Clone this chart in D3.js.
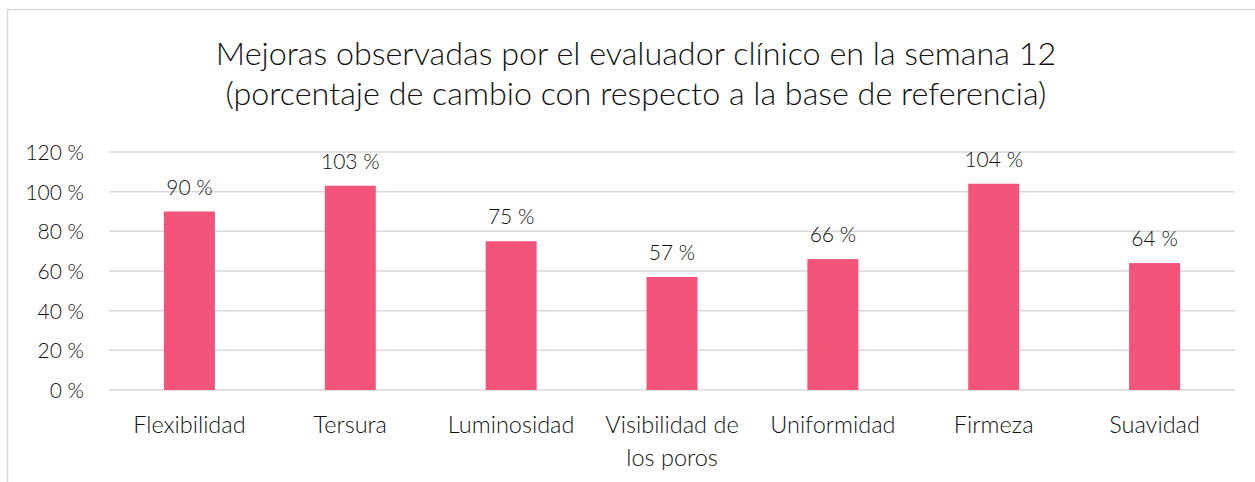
<!DOCTYPE html>
<html>
    <head>
        <script src="https://d3js.org/d3.v7.min.js"></script>
        <style>
            body, html {
                margin: 0;
                padding: 0;
                background: #ffffff;
            }
            svg text {
                font-family: Lato, "Open Sans", sans-serif;
                font-weight: 300;
            }
            .tick text {
                font-size: 21px;
                fill: #111111;
            }
            .grid line {
                stroke: #d9d9d9;
                stroke-width: 1.5;
            }
        </style>
    </head>
    <body>
        <div id="chart"></div>
        <script>
            // data
            const categories = ["Flexibilidad", "Tersura", "Luminosidad", "Visibilidad de los poros", "Uniformidad", "Firmeza", "Suavidad"];
            const values = [90, 103, 75, 57, 66, 104, 64];
            const yTicks = [0, 20, 40, 60, 80, 100, 120];
            const titleLines = ["Mejoras observadas por el evaluador clínico en la semana 12",
                                "(porcentaje de cambio con respecto a la base de referencia)"];

            const width = 1255;
            const height = 482;
            const margin = {top: 152, left: 109, right: 20, bottom: 92};

            const svg = d3.select("#chart")
                .append("svg")
                .attr("width", width)
                .attr("height", height);

            // outer frame (cropped at right and bottom)
            svg.append("path")
                .attr("d", `M7.5,${height} L7.5,9.5 L${width},9.5`)
                .attr("fill", "none")
                .attr("stroke", "#d9d9d9")
                .attr("stroke-width", 1.5);

            const xScale = d3.scaleBand()
                .domain(categories)
                .range([margin.left, width - margin.right])
                .paddingInner(0.683)
                .paddingOuter(0.3415);

            const yScale = d3.scaleLinear()
                .domain([0, 120])
                .range([390, margin.top]);

            // gridlines
            svg.append("g")
                .attr("class", "grid")
                .selectAll("line")
                .data(yTicks)
                .enter()
                .append("line")
                    .attr("x1", margin.left)
                    .attr("x2", width - margin.right)
                    .attr("y1", d => yScale(d))
                    .attr("y2", d => yScale(d));

            // y axis labels
            const yAxis = svg.append("g")
                .attr("transform", `translate(${margin.left - 25},0)`)
                .call(d3.axisLeft(yScale).tickValues(yTicks).tickSize(0).tickPadding(0)
                    .tickFormat(d => d + " %"));
            yAxis.attr("font-family", null).attr("font-size", null);
            yAxis.select(".domain").remove();
            yAxis.selectAll("text").attr("dy", "0.35em");

            // bars
            svg.append("g")
                .selectAll("rect")
                .data(values)
                .enter()
                .append("rect")
                    .attr("x", (d, i) => xScale(categories[i]))
                    .attr("y", d => yScale(d))
                    .attr("width", xScale.bandwidth())
                    .attr("height", d => yScale(0) - yScale(d))
                    .attr("fill", "#f5547a");

            // value labels
            svg.append("g")
                .selectAll("text")
                .data(values)
                .enter()
                .append("text")
                    .attr("x", (d, i) => xScale(categories[i]) + xScale.bandwidth() / 2)
                    .attr("y", d => yScale(d) - 17)
                    .attr("text-anchor", "middle")
                    .attr("font-size", 21)
                    .attr("fill", "#111111")
                    .text(d => d + " %");

            // category labels (wrapped)
            const catLines = {"Visibilidad de los poros": ["Visibilidad de", "los poros"]};
            const catG = svg.append("g");
            categories.forEach(c => {
                const lines = catLines[c] || [c];
                const t = catG.append("text")
                    .attr("x", xScale(c) + xScale.bandwidth() / 2)
                    .attr("y", 433)
                    .attr("text-anchor", "middle")
                    .attr("font-size", 23.5)
                    .attr("fill", "#111111");
                lines.forEach((l, i) => {
                    t.append("tspan")
                        .attr("x", xScale(c) + xScale.bandwidth() / 2)
                        .attr("dy", i === 0 ? 0 : 33)
                        .text(l);
                });
            });

            // title
            const title = svg.append("text")
                .attr("x", 636)
                .attr("y", 65)
                .attr("text-anchor", "middle")
                .attr("font-size", 32.3)
                .attr("fill", "#111111");
            titleLines.forEach((l, i) => {
                title.append("tspan")
                    .attr("x", 636)
                    .attr("dy", i === 0 ? 0 : 40)
                    .text(l);
            });
        </script>
    </body>
</html>
